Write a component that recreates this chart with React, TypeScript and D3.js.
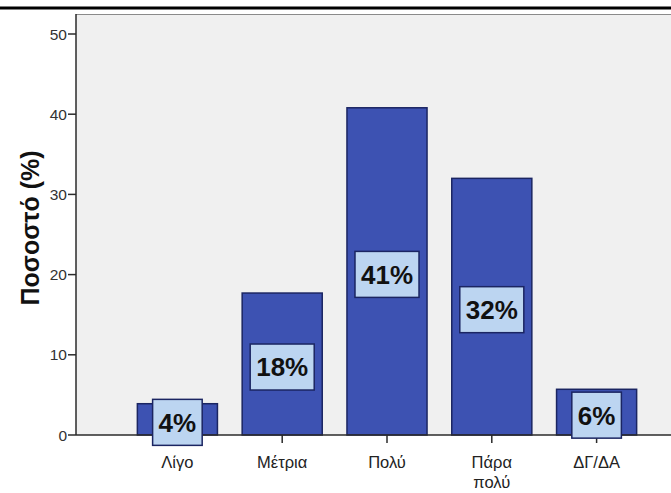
import React from "react";
import * as d3 from "d3";

const categories = ["Λίγο", "Μέτρια", "Πολύ", "Πάρα πολύ", "ΔΓ/ΔΑ"];
const values = [3.9, 17.7, 40.8, 32.0, 5.7];
const labels = ["4%", "18%", "41%", "32%", "6%"];
const yTicks = [0, 10, 20, 30, 40, 50];
const yTitle = "Ποσοστό (%)";

const W = 671;
const H = 493;
const FONT = "'Liberation Sans', Arial, sans-serif";

function textWidth(s: string, size: number) {
  let w = 0;
  for (const c of s) w += c === "%" ? 0.889 : 0.556;
  return w * size;
}

export default function App() {
  const plotLeft = 76;
  const plotTop = 14;
  const plotBottom = 435;
  const y = d3.scaleLinear().domain([0, 50]).range([plotBottom, 34]);
  const x = d3
    .scaleBand<string>()
    .domain(categories)
    .range([125, 649])
    .paddingInner(0.236)
    .paddingOuter(0.118);
  const bw = x.bandwidth();
  const labelSize = 26;

  return (
    <svg
      width={W}
      height={H}
      style={{ position: "absolute", left: 0, top: 0, background: "#fff" }}
      fontFamily={FONT}
    >
      <rect x={0} y={6.5} width={W} height={3} fill="#000" />
      <rect x={plotLeft} y={plotTop} width={W - plotLeft} height={plotBottom - plotTop} fill="#f0f0f0" />
      <line x1={plotLeft} x2={W} y1={plotTop + 0.5} y2={plotTop + 0.5} stroke="#8a8a8a" strokeWidth={1} />

      {categories.map((c, i) => {
        const x0 = x(c)!;
        const top = y(values[i]);
        return (
          <rect
            key={"b" + c}
            x={x0}
            y={top}
            width={bw}
            height={plotBottom - top}
            fill="#3d52b2"
            stroke="#1b2562"
            strokeWidth={1.5}
          />
        );
      })}

      {/* axes */}
      <line x1={plotLeft} x2={plotLeft} y1={plotTop} y2={plotBottom} stroke="#2b2b2b" strokeWidth={1.5} />
      <line x1={plotLeft} x2={W} y1={plotBottom} y2={plotBottom} stroke="#2b2b2b" strokeWidth={1.5} />

      {yTicks.map((t) => (
        <g key={"t" + t}>
          <line x1={plotLeft - 8} x2={plotLeft} y1={y(t)} y2={y(t)} stroke="#2b2b2b" strokeWidth={1.5} />
          <text x={plotLeft - 9} y={y(t)} dy="0.36em" textAnchor="end" fontSize={15.5} fill="#333">
            {t}
          </text>
        </g>
      ))}

      {categories.map((c) => {
        const cx = x(c)! + bw / 2;
        const parts = c === "Πάρα πολύ" ? ["Πάρα", "πολύ"] : [c];
        return (
          <g key={"x" + c}>
            <line x1={cx} x2={cx} y1={plotBottom} y2={plotBottom + 8} stroke="#2b2b2b" strokeWidth={1.5} />
            {parts.map((p, k) => (
              <text key={p} x={cx} y={468 + k * 19.5} textAnchor="middle" fontSize={16.5} fill="#222">
                {p}
              </text>
            ))}
          </g>
        );
      })}

      {categories.map((c, i) => {
        const cx = x(c)! + bw / 2;
        const cy = y(values[i] / 2) + 3;
        const tw = textWidth(labels[i], labelSize) + 12;
        const bh = 46;
        return (
          <g key={"l" + c}>
            <rect
              x={cx - tw / 2}
              y={cy - bh / 2}
              width={tw}
              height={bh}
              fill="#bcd5f1"
              stroke="#1b2562"
              strokeWidth={1.5}
            />
            <text x={cx} y={cy} dy="0.36em" textAnchor="middle" fontSize={labelSize} fontWeight="bold" fill="#111">
              {labels[i]}
            </text>
          </g>
        );
      })}

      <text
        transform={`translate(39,228) rotate(-90)`}
        textAnchor="middle"
        fontSize={25}
        fontWeight="bold"
        fill="#111"
      >
        {yTitle}
      </text>
    </svg>
  );
}
